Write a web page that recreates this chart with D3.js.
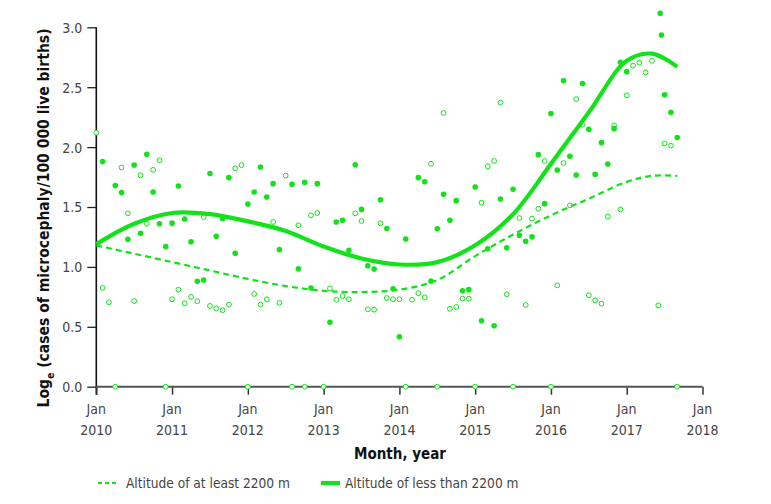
<html lang="en"><head>
<meta http-equiv="Content-Type" content="text/html; charset=UTF-8">
<title>Microcephaly by altitude</title>
<script type="text/javascript" src="https://cdnjs.cloudflare.com/ajax/libs/d3/7.8.5/d3.min.js"></script>
<style type="text/css">
body { margin: 0; background: #fff; }
text { font-family: "Liberation Sans Narrow", "DejaVu Sans Condensed", sans-serif; }
</style>
</head>
<body>

<script type="text/javascript">

var width = 771;
var height = 504;
var green = "#12e21a";

// months since Jan 2010, log rate
var lowAltPoints = [
  [1,1.88],[3,1.68],[4,1.62],[5,1.23],[6,1.85],[7,1.28],[8,1.94],[9,1.625],[10,1.36],[11,1.17],
  [12,1.365],[13,1.675],[14,1.40],[15,1.21],[16,0.88],[17,0.89],[18,1.78],[19,1.255],[20,1.405],
  [21,1.745],[22,1.113],[24,1.525],[25,1.625],[26,1.834],[27,1.584],[28,1.695],[29,1.144],[31,1.69],
  [32,0.985],[33,1.706],[34,0.824],[35,1.695],[37,0.537],[38,1.375],[39,1.39],[40,1.138],[41,1.853],
  [42,1.48],[43,1.01],[44,0.982],[45,1.56],[46,1.32],[47,0.818],[48,0.417],[49,1.233],[51,1.745],
  [52,1.711],[53,0.882],[54,1.319],[55,1.606],[56,1.389],[57,1.553],[58,0.80],[59,0.81],[60,1.667],
  [61,0.551],[62,1.152],[63,0.509],[64,1.567],[65,1.16],[66,1.648],[67,1.264],[68,1.214],[69,1.252],
  [70,1.937],[71,1.528],[72,2.28],[73,1.809],[74,2.554],[75,1.923],[76,1.767],[77,2.53],[78,2.148],
  [79,1.773],[80,2.037],[81,1.859],[82,2.154],[83,2.708],[84,2.63],[89.3,3.117],[89.5,2.936],
  [90,2.437],[91,2.29],[92,2.08]
];

var highAltPoints = [
  [0,2.12],[1,0.824],[2,0.705],[3,0],[4,1.83],[5,1.447],[6,0.715],[7,1.765],[8,1.36],[9,1.81],
  [10,1.89],[11,0],[12,0.73],[13,0.81],[14,0.696],[15,0.749],[16,0.713],[17,1.416],[18,0.674],
  [19,0.654],[20,0.638],[21,0.685],[22,1.823],[23,1.85],[24,0],[25,0.774],[26,0.685],[27,0.73],
  [28,1.375],[29,0.70],[30,1.762],[31,0],[32,1.347],[33,0],[34,1.43],[35,1.45],[36,0],[37,0.82],
  [38,0.726],[39,0.757],[40,0.73],[41,1.447],[42,1.383],[43,0.646],[44,0.643],[45,1.364],[46,0.74],
  [47,0.73],[48,0.73],[49,0],[50,0.726],[51,0.78],[52,0.746],[53,1.861],[54,0],[55,2.285],[56,0.651],
  [57,0.665],[58,0.735],[59,0.735],[60,0],[61,1.536],[62,1.84],[63,1.884],[64,2.371],[65,0.771],
  [66,0],[67,1.408],[68,0.682],[69,1.403],[70,1.486],[71,1.884],[72,0],[73,0.846],[74,1.867],
  [75,1.514],[76,2.40],[77,2.187],[78,0.763],[79,0.721],[80,0.693],[81,1.42],[82,2.182],[83,1.48],
  [84,2.432],[85,2.68],[86,2.705],[87,2.624],[88,2.72],[89,0.679],[90,2.03],[91,2.012],[92,0]
];

// fitted curves read at 6-month steps
var fitMonths = [0, 6, 12, 18, 24, 30, 36, 42, 48, 54, 60, 66, 72, 78, 84, 88, 92];
var lowAltFit  = [1.19, 1.36, 1.45, 1.44, 1.38, 1.30, 1.17, 1.07, 1.02, 1.04, 1.18, 1.44, 1.86, 2.29, 2.72, 2.78, 2.67];
var highAltFit = [1.18, 1.11, 1.04, 0.97, 0.90, 0.84, 0.80, 0.79, 0.81, 0.89, 1.09, 1.27, 1.43, 1.57, 1.71, 1.76, 1.76];

var yearLabels = ["2010","2011","2012","2013","2014","2015","2016","2017","2018"];
var yTicks = [0, 0.5, 1.0, 1.5, 2.0, 2.5, 3.0];

var svg = d3.select("body")
            .append("svg")
            .attr("width", width)
            .attr("height", height);

var x = d3.scaleLinear().domain([0, 96]).range([96.3, 702.5]);
var y = d3.scaleLinear().domain([0, 3]).range([386.7, 27.3]);

// y axis
var yAxis = svg.append("g")
  .attr("transform", "translate(" + x(0) + ",0)")
  .call(d3.axisLeft(y).tickValues(yTicks).tickFormat(d3.format(".1f")).tickSize(9).tickSizeOuter(0).tickPadding(5));
yAxis.select(".domain").remove();
yAxis.selectAll("line").attr("stroke", "#222").attr("stroke-width", 1.3);
yAxis.selectAll("text").attr("font-size", 14).attr("fill", "#444").attr("dy", "0.35em");
svg.append("line")
  .attr("x1", x(0)).attr("x2", x(0))
  .attr("y1", y(3)).attr("y2", y(0) + 8)
  .attr("stroke", "#111").attr("stroke-width", 1.6);

// x axis
var xAxis = svg.append("g")
  .attr("transform", "translate(0," + y(0) + ")")
  .call(d3.axisBottom(x).tickValues(d3.range(0, 97, 12)).tickSize(8).tickSizeOuter(0).tickFormat(""));
xAxis.select(".domain").remove();
xAxis.selectAll("line").attr("stroke", "#333").attr("stroke-width", 1.5);
svg.append("line")
  .attr("x1", x(0)).attr("x2", x(96))
  .attr("y1", y(0)).attr("y2", y(0))
  .attr("stroke", "#555").attr("stroke-width", 2);

var xLab = svg.selectAll(".xlab")
  .data(yearLabels).enter()
  .append("text")
  .attr("class", "xlab")
  .attr("text-anchor", "middle")
  .attr("font-size", 14)
  .attr("fill", "#444");
xLab.append("tspan")
  .attr("x", function(d, i){ return x(i * 12); })
  .attr("y", 414)
  .text("Jan");
xLab.append("tspan")
  .attr("x", function(d, i){ return x(i * 12); })
  .attr("y", 435)
  .text(function(d){ return d; });

// titles
svg.append("text")
  .attr("x", 400).attr("y", 459)
  .attr("text-anchor", "middle")
  .attr("font-size", 15)
  .attr("font-weight", "bold")
  .attr("fill", "#111")
  .text("Month, year");

var yTitle = svg.append("text")
  .attr("transform", "translate(49,218) rotate(-90)")
  .attr("text-anchor", "middle")
  .attr("font-size", 15.5)
  .attr("font-weight", "bold")
  .attr("fill", "#111");
yTitle.append("tspan").text("Log");
yTitle.append("tspan").attr("font-size", 10.5).attr("dy", 5).text("e");
yTitle.append("tspan").attr("dy", -5).text(" (cases of microcephaly/100 000 live births)");

// points
svg.selectAll(".high")
  .data(highAltPoints).enter()
  .append("circle")
  .attr("class", "high")
  .attr("cx", function(d){ return x(d[0]); })
  .attr("cy", function(d){ return y(d[1]); })
  .attr("r", 2.4)
  .attr("fill", "#fff")
  .attr("stroke", green)
  .attr("stroke-width", 1);

svg.selectAll(".low")
  .data(lowAltPoints).enter()
  .append("circle")
  .attr("class", "low")
  .attr("cx", function(d){ return x(d[0]); })
  .attr("cy", function(d){ return y(d[1]); })
  .attr("r", 2.8)
  .attr("fill", green);

// fitted lines
var line = d3.line()
  .x(function(d){ return x(d[0]); })
  .y(function(d){ return y(d[1]); })
  .curve(d3.curveCatmullRom);

svg.append("path")
  .datum(d3.zip(fitMonths, highAltFit))
  .attr("d", line)
  .attr("fill", "none")
  .attr("stroke", green)
  .attr("stroke-width", 2.2)
  .attr("stroke-dasharray", "6,4");

svg.append("path")
  .datum(d3.zip(fitMonths, lowAltFit))
  .attr("d", line)
  .attr("fill", "none")
  .attr("stroke", green)
  .attr("stroke-width", 4.2);

// legend
var legend = svg.append("g").attr("transform", "translate(0,483)");
legend.append("line")
  .attr("x1", 98).attr("x2", 118).attr("y1", 0).attr("y2", 0)
  .attr("stroke", green).attr("stroke-width", 2.2).attr("stroke-dasharray", "4,3");
legend.append("text")
  .attr("x", 126).attr("y", 5)
  .attr("font-size", 13.6).attr("fill", "#444")
  .text("Altitude of at least 2200 m");
legend.append("line")
  .attr("x1", 321).attr("x2", 340).attr("y1", 0).attr("y2", 0)
  .attr("stroke", green).attr("stroke-width", 4.2);
legend.append("text")
  .attr("x", 345).attr("y", 5)
  .attr("font-size", 13.6).attr("fill", "#444")
  .text("Altitude of less than 2200 m");

</script>
</body></html>
